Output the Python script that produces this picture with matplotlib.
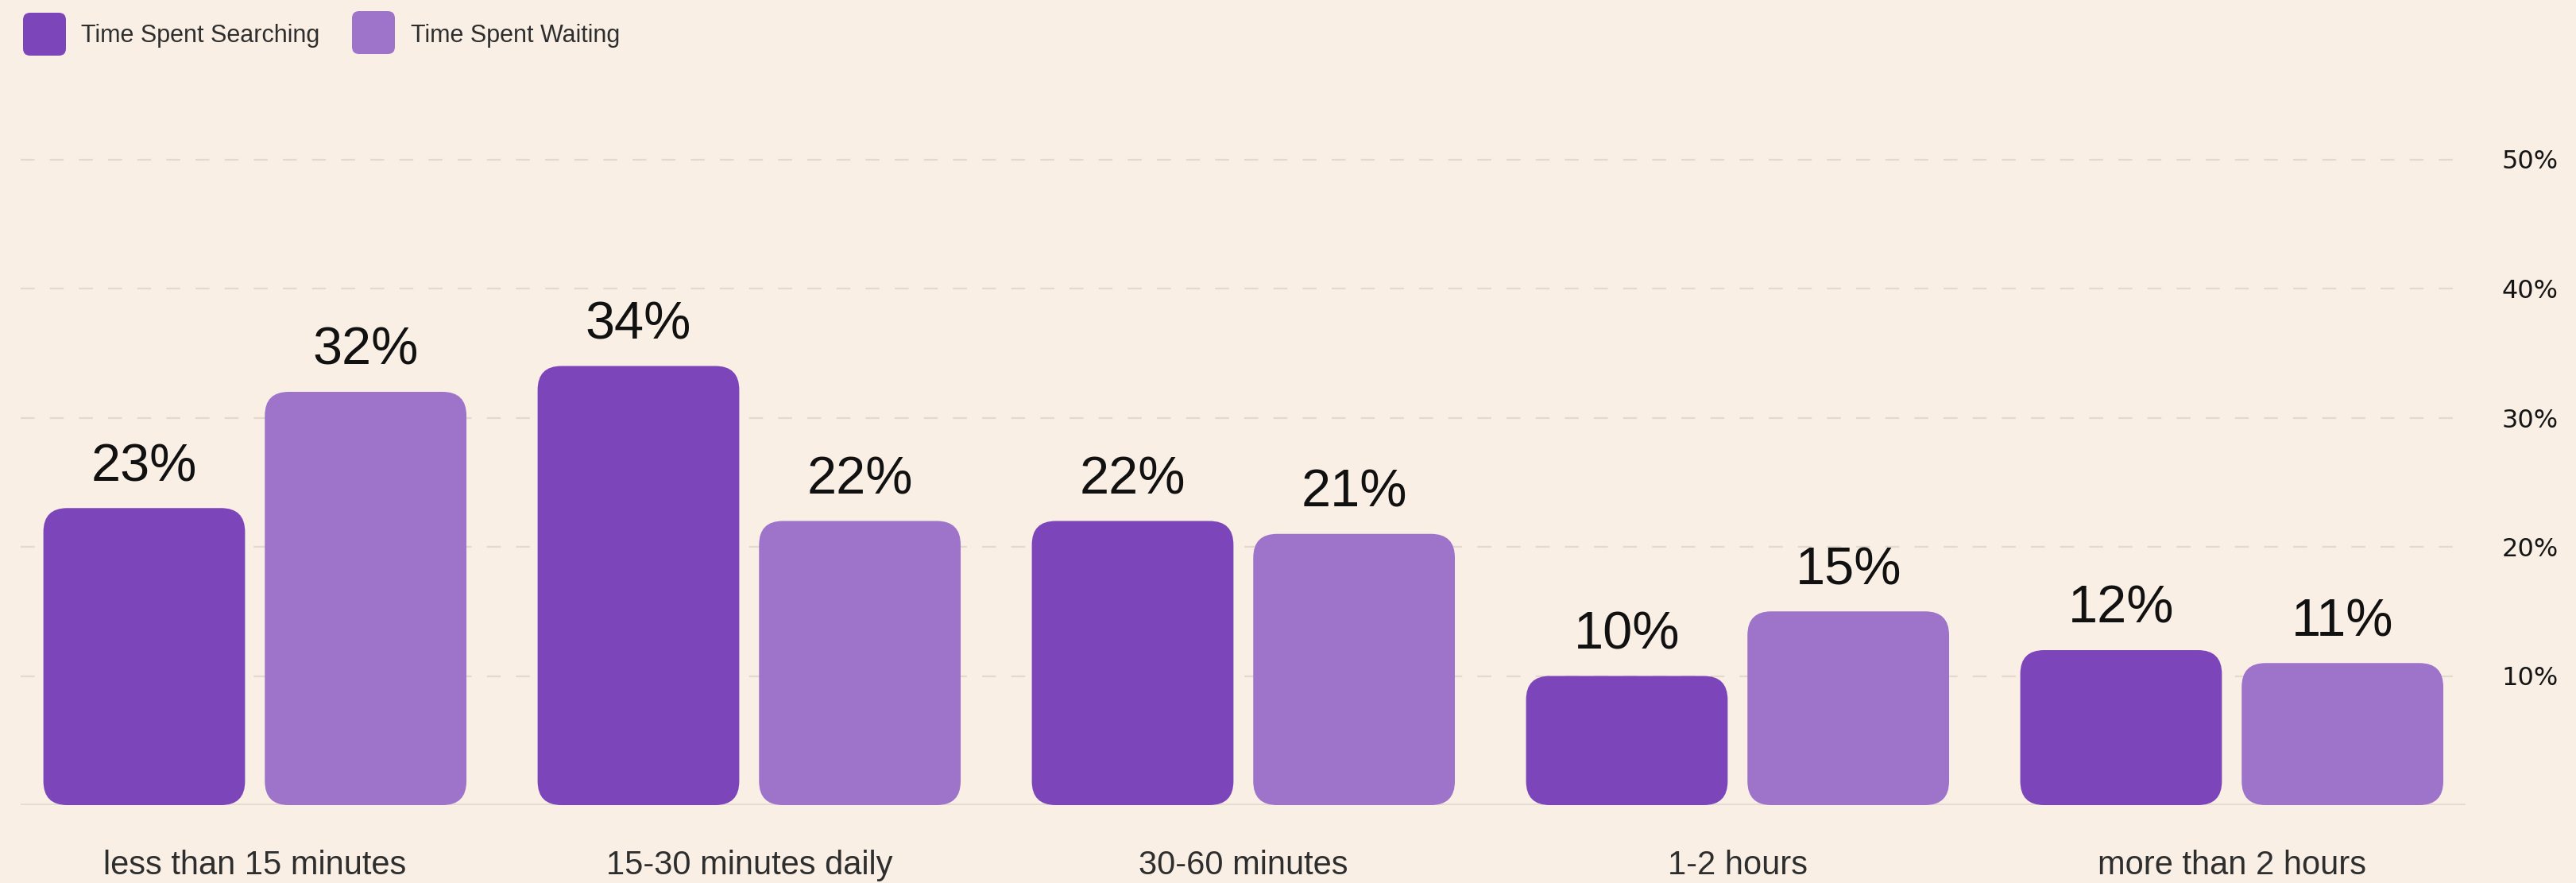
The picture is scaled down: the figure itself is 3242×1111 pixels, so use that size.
import matplotlib
matplotlib.use("Agg")
import matplotlib.pyplot as plt
from matplotlib.patches import FancyBboxPatch
from matplotlib.transforms import IdentityTransform

categories = ["less than 15 minutes", "15-30 minutes daily", "30-60 minutes", "1-2 hours", "more than 2 hours"]
searching = [23, 34, 22, 10, 12]
waiting = [32, 22, 21, 15, 11]
series_names = ["Time Spent Searching", "Time Spent Waiting"]
yticks = [10, 20, 30, 40, 50]
ytick_labels = ["10%", "20%", "30%", "40%", "50%"]

BG = "#F9EFE5"
DARK = "#7C45B9"
LIGHT = "#9E74CA"
GRID = "#E3D9CF"
TEXT = "#2E2E2E"

W, H = 3242, 1111
DPI = 100
fig = plt.figure(figsize=(W / DPI, H / DPI), dpi=DPI, facecolor=BG)

ax_left, ax_right = 26, 3103
ax_bottom_px, ax_top_px = 1013, 119.25  # from top
ax = fig.add_axes([ax_left / W, 1 - ax_bottom_px / H,
                   (ax_right - ax_left) / W, (ax_bottom_px - ax_top_px) / H])
ax.set_facecolor(BG)
xmin, xmax = -0.474, 4.473
ymax = 55
ax.set_xlim(xmin, xmax)
ax.set_ylim(0, ymax)

for s in ax.spines.values():
    s.set_visible(False)

# grid lines
for t in yticks:
    ax.axhline(t, color=GRID, lw=1.6, linestyle=(0, (7.9, 8.6)), zorder=0)
ax.axhline(0, color="#E3DBD1", lw=2.6, zorder=0)

bw = 0.408
off = 0.224
x = list(range(len(categories)))

xu_per_px = (xmax - xmin) / (ax_right - ax_left)
yu_per_px = ymax / (ax_bottom_px - ax_top_px)
r_px = 30
aspect = yu_per_px / xu_per_px

def rounded(bars, color):
    for rect in bars:
        bx, by = rect.get_xy()
        w, h = rect.get_width(), rect.get_height()
        rect.remove()
        p = FancyBboxPatch((bx, by), w, h,
                           boxstyle=f"round,pad=0,rounding_size={r_px * xu_per_px}",
                           mutation_aspect=aspect, facecolor=color, edgecolor="none", zorder=2)
        ax.add_patch(p)

b1 = ax.bar([i - off for i in x], searching, width=bw, color=DARK)
b2 = ax.bar([i + off for i in x], waiting, width=bw, color=LIGHT)
rounded(b1, DARK)
rounded(b2, LIGHT)

for i in x:
    for xo, v in ((i - off, searching[i]), (i + off, waiting[i])):
        ax.annotate(f"{v}%", (xo, v), xytext=(0, 24.5), textcoords="offset points",
                    ha="center", va="baseline", fontsize=48, family="Liberation Sans",
                    color="#111111", zorder=3)

ax.set_xticks(x)
ax.set_xticklabels(categories, fontsize=30, family="Liberation Sans", color=TEXT)
ax.tick_params(axis="x", length=0, pad=40)

ax.yaxis.tick_right()
ax.set_yticks(yticks)
ax.set_yticklabels(ytick_labels, fontsize=23, family="DejaVu Sans", color="#151515")
ax.tick_params(axis="y", length=0, pad=33)

# legend (manual)
ident = IdentityTransform()
leg = [(29, 16, DARK, 102, series_names[0]), (443, 14, LIGHT, 517, series_names[1])]
for sx, sy, col, tx, label in leg:
    size = 54
    sq = FancyBboxPatch((sx, H - sy - size), size, size,
                        boxstyle="round,pad=0,rounding_size=9",
                        facecolor=col, edgecolor="none", transform=ident)
    fig.add_artist(sq)
    fig.text(tx / W, 1 - 53 / H, label, fontsize=22, family="Liberation Sans",
             color=TEXT, ha="left", va="baseline")

fig.savefig("out.png", dpi=DPI, facecolor=BG)
